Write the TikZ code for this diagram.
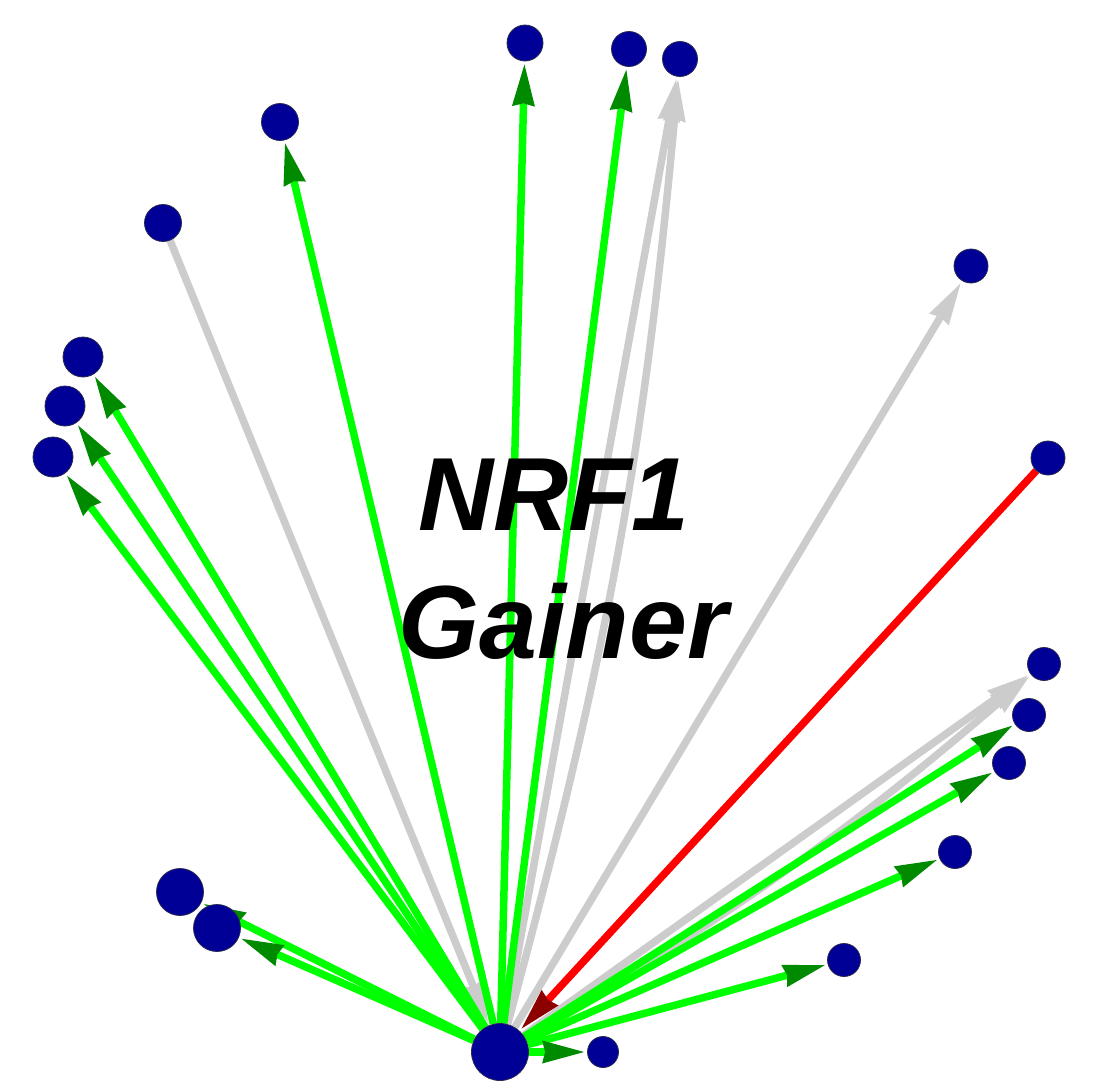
\documentclass[tikz,border=0pt]{standalone}
\usepackage{fontspec}
\newfontfamily\labfont{Liberation Sans}
\usetikzlibrary{arrows.meta}
\pgfdeclarelayer{edgelayer}
\pgfsetlayers{edgelayer,main}
\definecolor{lgreen}{RGB}{0,255,0}
\definecolor{dgreen}{RGB}{0,138,0}
\definecolor{lgray}{RGB}{204,204,204}
\definecolor{lred}{RGB}{255,0,0}
\definecolor{dred}{RGB}{140,0,0}
\definecolor{navyfill}{RGB}{0,0,150}
\definecolor{navyline}{RGB}{40,40,80}
\begin{document}
\begin{tikzpicture}[x=1pt,y=-1pt,
  gnode/.style={circle,inner sep=0pt,fill=navyfill,draw=navyline,line width=0.8pt,minimum size=#1},
  gedge/.style={draw=lgreen,line width=7.5pt,shorten >=3pt,
    -{Stealth[length=42pt,width=23pt,inset=3pt,line width=0pt,color=dgreen]}},
  yedge/.style={draw=lgray,line width=7.5pt,shorten >=3pt,
    -{Stealth[length=42pt,width=23pt,inset=3pt,line width=0pt,color=lgray]}},
  redge/.style={draw=lred,line width=7.5pt,shorten >=3pt,
    -{Stealth[length=42pt,width=23pt,inset=3pt,line width=0pt,color=dred]}},
  lab/.style={font=\labfont\bfseries\itshape\fontsize{104}{128}\selectfont,inner sep=0pt,anchor=base}
]
\useasboundingbox (0,0) rectangle (1101,1082);
% nodes
\node[gnode=57pt] (hub) at (500,1052) {};
\node[gnode=36pt] (a) at (525,43) {};
\node[gnode=35pt] (b) at (629,49) {};
\node[gnode=35pt] (c) at (680,59) {};
\node[gnode=37pt] (d) at (280,122) {};
\node[gnode=37pt] (e) at (163,223) {};
\node[gnode=34pt] (f) at (971,266) {};
\node[gnode=40pt] (g) at (83,357) {};
\node[gnode=40pt] (h) at (65,406) {};
\node[gnode=40pt] (i) at (53,457) {};
\node[gnode=34pt] (j) at (1048,458) {};
\node[gnode=33pt] (k) at (1044,664) {};
\node[gnode=33pt] (l) at (1029,715) {};
\node[gnode=33pt] (m) at (1009,763) {};
\node[gnode=33pt] (n) at (955,852) {};
\node[gnode=33pt] (o) at (844,960) {};
\node[gnode=31pt] (p) at (603,1052) {};
\node[gnode=47pt] (q) at (180,892) {};
\node[gnode=47pt] (r) at (217,928) {};
% label
\node[lab] (t1) at (554,530) {NRF1};
\node[lab] (t2) at (563,658) {Gainer};
% edges
\begin{pgfonlayer}{edgelayer}
\draw[yedge] (e) -- (hub);
\draw[yedge] (hub) -- (c);
\draw[yedge] (hub) to[bend right=5] (c);
\draw[yedge] (hub) -- (f);
\draw[yedge] (hub) -- (k);
\draw[yedge] (hub) to[bend right=5] (k);
\draw[gedge] (hub) -- (a);
\draw[gedge] (hub) -- (b);
\draw[gedge] (hub) -- (d);
\draw[gedge] (hub) -- (g);
\draw[gedge] (hub) -- (h);
\draw[gedge] (hub) -- (i);
\draw[gedge] (hub) -- (l);
\draw[gedge] (hub) -- (m);
\draw[gedge] (hub) -- (n);
\draw[gedge] (hub) -- (o);
\draw[gedge] (hub) -- (p);
\draw[gedge] (hub) -- (q);
\draw[gedge] (hub) -- (r);
\draw[redge] (j) -- (hub);
\end{pgfonlayer}
\end{tikzpicture}
\end{document}
